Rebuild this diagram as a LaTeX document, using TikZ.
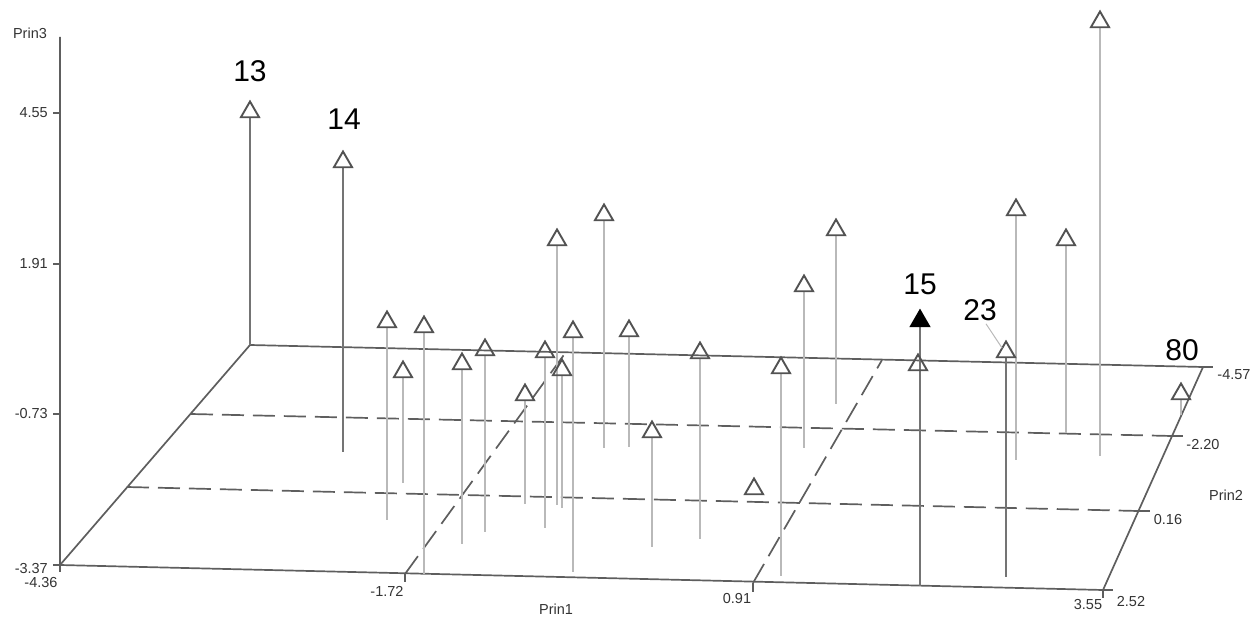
\documentclass[tikz,border=0pt]{standalone}
\usepackage{fontspec}
\setmainfont{Liberation Sans}
\usetikzlibrary{shapes.geometric}
\pgfdeclarelayer{bg}
\pgfsetlayers{bg,main}
\definecolor{framegray}{HTML}{5E5E5E}
\definecolor{stemgray}{HTML}{B9B9B9}
\definecolor{darkstem}{HTML}{747474}
\tikzset{
    tri/.style={regular polygon, regular polygon sides=3, draw=black!68,
    	line width=1.9pt, minimum size=21pt, inner sep=0pt, outer sep=0pt},
    stem/.style={draw=stemgray, line width=1.8pt},
    dstem/.style={draw=darkstem, line width=2pt},
    frame/.style={draw=framegray, line width=1.7pt},
    gridline/.style={draw=framegray, line width=1.7pt, dash pattern=on 22pt off 9pt},
    ticklbl/.style={font=\fontsize{14.5}{14.5}\selectfont, text=black!80, inner sep=0pt},
    biglbl/.style={font=\fontsize{30}{30}\selectfont, inner sep=0pt}
}

\begin{document}
\begin{tikzpicture}[x=1pt, y=-1pt]
  \useasboundingbox (0,0) rectangle (1260,617);

  % frame corners
  \coordinate (top) at (60,37);
  \coordinate (fl) at (60,565);
  \coordinate (bl) at (250,345);
  \coordinate (br) at (1203,367);
  \coordinate (fr) at (1103,590);

  % points
  \node[tri] (v1) at (250,112) {};
  \node[tri] (v2) at (343,162) {};
  \node[tri] (v3) at (387,322) {};
  \node[tri] (v4) at (424,327) {};
  \node[tri] (v5) at (403,372) {};
  \node[tri] (v6) at (462,364) {};
  \node[tri] (v7) at (485,350) {};
  \node[tri] (v8) at (525,395) {};
  \node[tri] (v9) at (545,352) {};
  \node[tri] (v10) at (557,240) {};
  \node[tri] (v11) at (562,370) {};
  \node[tri] (v12) at (573,332) {};
  \node[tri] (v13) at (604,215) {};
  \node[tri] (v14) at (629,331) {};
  \node[tri] (v15) at (652,432) {};
  \node[tri] (v16) at (700,353) {};
  \node[tri] (v17) at (754,489) {};
  \node[tri] (v18) at (781,368) {};
  \node[tri] (v19) at (804,286) {};
  \node[tri] (v20) at (836,230) {};
  \node[tri, fill=black, draw=black] (v21) at (920,321) {};
  \node[tri] (v22) at (918,365) {};
  \node[tri] (v23) at (1006,352) {};
  \node[tri] (v24) at (1016,210) {};
  \node[tri] (v25) at (1066,240) {};
  \node[tri] (v26) at (1100,22) {};
  \node[tri] (v27) at (1181,394) {};

  % feet of the stems
  \coordinate (f1) at (250,345);  \coordinate (f2) at (343,452);
  \coordinate (f3) at (387,520);  \coordinate (f4) at (424,574);
  \coordinate (f5) at (403,483);  \coordinate (f6) at (462,544);
  \coordinate (f7) at (485,532);  \coordinate (f8) at (525,504);
  \coordinate (f9) at (545,528);  \coordinate (f10) at (557,505);
  \coordinate (f11) at (562,508); \coordinate (f12) at (573,572);
  \coordinate (f13) at (604,448); \coordinate (f14) at (629,447);
  \coordinate (f15) at (652,547); \coordinate (f16) at (700,539);
  \coordinate (f18) at (781,576); \coordinate (f19) at (804,448);
  \coordinate (f20) at (836,404); \coordinate (f21) at (920,586);
  \coordinate (f23) at (1006,577); \coordinate (f24) at (1016,460);
  \coordinate (f25) at (1066,433); \coordinate (f26) at (1100,456);
  \coordinate (f27) at (1181,415);

  % grid ends
  \coordinate (ga) at (191,414);  \coordinate (gb) at (1172,436);
  \coordinate (gc) at (127,487);  \coordinate (gd) at (1138,511);
  \coordinate (ge) at (405,574);  \coordinate (gf) at (566,352);
  \coordinate (gg) at (753,583);  \coordinate (gh) at (882,360);

  \begin{pgfonlayer}{bg}
	  \draw[frame] (top) -- (fl) -- (bl) -- (br) -- (fr) -- (fl);
	  \draw[frame] (br) -- ++(10,0); \draw[frame] (fr) -- ++(10,0);
	  \draw[frame] (gb) -- ++(11,0); \draw[frame] (gd) -- ++(12,0);
	  \draw[frame] (fl) -- ++(0,7); \draw[frame] (ge) -- ++(0,8);
	  \draw[frame] (gg) -- ++(0,9); \draw[frame] (fr) -- ++(0,8);
	  \draw[frame] (60,113) -- ++(-7,0); \draw[frame] (60,264) -- ++(-7,0);
	  \draw[frame] (60,414) -- ++(-7,0); \draw[frame] (fl) -- ++(-7,0);
	  \draw[gridline] (ga) -- (gb); \draw[gridline] (gc) -- (gd);
	  \draw[gridline] (ge) -- (gf); \draw[gridline] (gg) -- (gh);

	  \draw[dstem] (v1.south) -- (f1); \draw[dstem] (v2.south) -- (f2);
	  \draw[stem] (v3.south) -- (f3); \draw[stem] (v4.south) -- (f4);
	  \draw[stem] (v5.south) -- (f5); \draw[stem] (v6.south) -- (f6);
	  \draw[stem] (v7.south) -- (f7); \draw[stem] (v8.south) -- (f8);
	  \draw[stem] (v9.south) -- (f9); \draw[stem] (v10.south) -- (f10);
	  \draw[stem] (v11.south) -- (f11); \draw[stem] (v12.south) -- (f12);
	  \draw[stem] (v13.south) -- (f13); \draw[stem] (v14.south) -- (f14);
	  \draw[stem] (v15.south) -- (f15); \draw[stem] (v16.south) -- (f16);
	  \draw[stem] (v18.south) -- (f18); \draw[stem] (v19.south) -- (f19);
	  \draw[stem] (v20.south) -- (f20);
	  \draw[dstem, line width=2.5pt] (v21.south) -- (f21);
	  \draw[dstem] (v23.south) -- (f23); \draw[stem] (v24.south) -- (f24);
	  \draw[stem] (v25.south) -- (f25); \draw[stem] (v26.south) -- (f26);
	  \draw[stem] (v27.south) -- (f27);
  \end{pgfonlayer}

  % axis labels
  \node[ticklbl] (z3) at (30,33) {Prin3};
  \node[ticklbl, anchor=east] (z3a) at (48,113) {4.55};
  \node[ticklbl, anchor=east] (z3b) at (48,264) {1.91};
  \node[ticklbl, anchor=east] (z3c) at (48,414) {-0.73};
  \node[ticklbl, anchor=east] (z3d) at (48,569) {-3.37};
  \node[ticklbl] (x1a) at (41,583) {-4.36};
  \node[ticklbl] (x1b) at (387,591) {-1.72};
  \node[ticklbl] (x1c) at (737,599) {0.91};
  \node[ticklbl] (x1d) at (1088,605) {3.55};
  \node[ticklbl] (z1) at (556,609) {Prin1};
  \node[ticklbl] (y2a) at (1131,602) {2.52};
  \node[ticklbl] (y2b) at (1168,520) {0.16};
  \node[ticklbl] (y2c) at (1203,445) {-2.20};
  \node[ticklbl] (y2d) at (1234,375) {-4.57};
  \node[ticklbl] (z2) at (1226,495) {Prin2};

  % point labels
  \node[biglbl] (n13) at (250,71) {13};
  \node[biglbl] (n14) at (344,119) {14};
  \node[biglbl] (n15) at (920,284) {15};
  \node[biglbl] (n23) at (980,310) {23};
  \node[biglbl] (n80) at (1182,350) {80};
  \draw[draw=stemgray, line width=1pt] (n23.south) ++(6,3) -- (v23.north west);

\end{tikzpicture}
\end{document}
